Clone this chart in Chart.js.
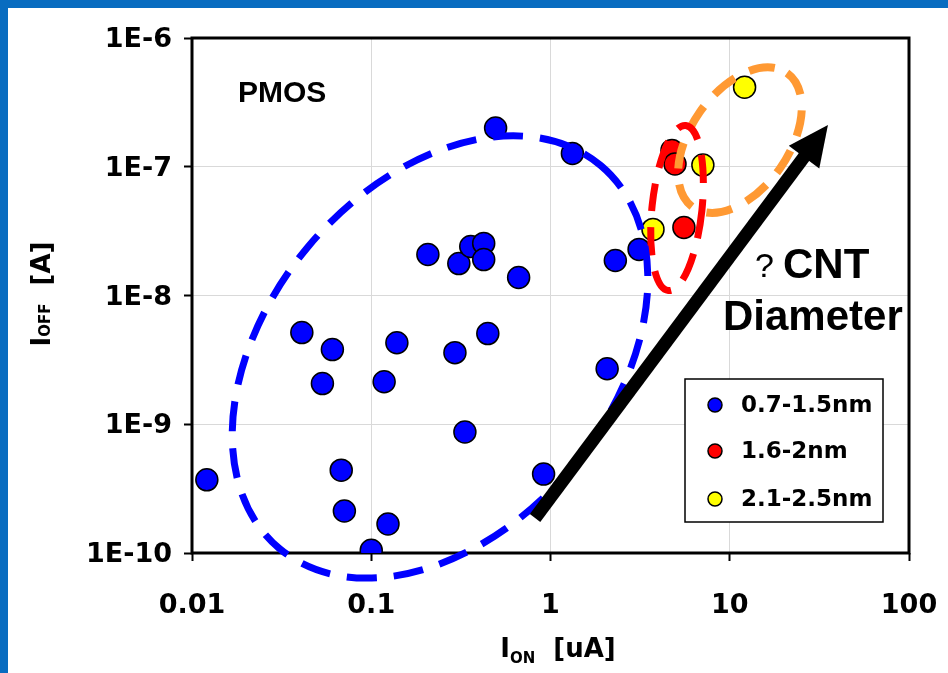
<!DOCTYPE html>
<html>
<head>
<meta charset="utf-8">
<script src="https://cdn.jsdelivr.net/npm/chart.js@4.4.1/dist/chart.umd.min.js"></script>
<style>
    html, body { margin: 0; padding: 0; background: #fff; }
    canvas { display: block; }
</style>
</head>
<body>
<canvas id="graph" width="948" height="673" style="width:948px;height:673px"></canvas>
<script>
// I_ON [uA] and I_OFF [A]
const smallOn = [0.0121, 0.041, 0.0607, 0.0534, 0.068, 0.0708, 0.1, 0.124, 0.118, 0.139,
    0.207, 0.293, 0.333, 0.308, 0.359, 0.424, 0.424, 0.447, 0.494, 0.664,
    0.915, 1.325, 2.07, 2.3, 3.12];
const smallOff = [3.7e-10, 5.15e-9, 3.8e-9, 2.07e-9, 4.4e-10, 2.12e-10, 1.05e-10, 1.68e-10, 2.14e-9, 4.3e-9,
    2.08e-8, 3.6e-9, 8.7e-10, 1.77e-8, 2.4e-8, 2.54e-8, 1.9e-8, 5.06e-9, 2.0e-7, 1.38e-8,
    4.1e-10, 1.27e-7, 2.7e-9, 1.87e-8, 2.28e-8];

const midOn = [4.76, 4.95, 5.55];
const midOff = [1.34e-7, 1.05e-7, 3.38e-8];

const largeOn = [3.73, 7.08, 12.1];
const largeOff = [3.26e-8, 1.03e-7, 4.15e-7];

const seriesLabels = ['0.7-1.5nm', '1.6-2nm', '2.1-2.5nm'];

const xTicks = [0.01, 0.1, 1, 10, 100];
const xTickLabels = ['0.01', '0.1', '1', '10', '100'];
const yTicks = [1e-10, 1e-9, 1e-8, 1e-7, 1e-6];
const yTickLabels = ['1E-10', '1E-9', '1E-8', '1E-7', '1E-6'];

const toPoints = (xs, ys) => xs.map((x, i) => ({ x: x, y: ys[i] }));

// dashed rings around the groups (centre in data units, radii in px)
const rings = [
    { x: 11.4, y: 1.61e-7, rx: 82, ry: 49, rot: -55, color: '#ff9933', width: 8, dash: [26, 16] },
    { x: 5.08, y: 4.78e-8, rx: 25, ry: 83, rot: 6, color: '#ff0000', width: 7, dash: [28, 16] },
    { x: 0.242, y: 3.33e-9, rx: 250, ry: 172, rot: -50, color: '#0000ff', width: 7, dash: [30, 17] }
];
const arrowFrom = { x: 0.82, y: 1.87e-10 };
const arrowTo = { x: 35.3, y: 2.11e-7 };

const TICK_FONT = { family: 'DejaVu Sans', size: 27, weight: 'bold' };

const decorPlugin = {
    id: 'decor',
    beforeDraw(chart) {
        const ctx = chart.ctx;
        ctx.save();
        ctx.fillStyle = '#fff';
        ctx.fillRect(0, 0, chart.width, chart.height);
        ctx.fillStyle = '#086cc0';
        ctx.fillRect(0, 0, chart.width, 8);
        ctx.fillRect(0, 0, 8, chart.height);
        ctx.restore();
    },
    beforeDatasetsDraw(chart) {
        const a = chart.chartArea;
        const ctx = chart.ctx;
        ctx.save();
        ctx.strokeStyle = '#000';
        ctx.lineWidth = 3;
        ctx.strokeRect(a.left, a.top, a.right - a.left, a.bottom - a.top);
        ctx.restore();
    },
    afterDatasetsDraw(chart) {
        const ctx = chart.ctx;
        const xs = chart.scales.x, ys = chart.scales.y;

        // rings
        rings.forEach(r => {
            ctx.save();
            ctx.strokeStyle = r.color;
            ctx.lineWidth = r.width;
            ctx.setLineDash(r.dash);
            ctx.beginPath();
            ctx.ellipse(xs.getPixelForValue(r.x), ys.getPixelForValue(r.y), r.rx, r.ry, r.rot * Math.PI / 180, 0, Math.PI * 2);
            ctx.stroke();
            ctx.restore();
        });

        // arrow
        const x0 = xs.getPixelForValue(arrowFrom.x), y0 = ys.getPixelForValue(arrowFrom.y);
        const x1 = xs.getPixelForValue(arrowTo.x), y1 = ys.getPixelForValue(arrowTo.y);
        const ang = Math.atan2(y1 - y0, x1 - x0);
        const headLen = 40, headHalf = 19;
        const bx = x1 - headLen * Math.cos(ang), by = y1 - headLen * Math.sin(ang);
        ctx.save();
        ctx.strokeStyle = '#000';
        ctx.fillStyle = '#000';
        ctx.lineWidth = 13;
        ctx.beginPath();
        ctx.moveTo(x0, y0);
        ctx.lineTo(bx + 2 * Math.cos(ang), by + 2 * Math.sin(ang));
        ctx.stroke();
        ctx.beginPath();
        ctx.moveTo(x1, y1);
        ctx.lineTo(bx - headHalf * Math.sin(ang), by + headHalf * Math.cos(ang));
        ctx.lineTo(bx + headHalf * Math.sin(ang), by - headHalf * Math.cos(ang));
        ctx.closePath();
        ctx.fill();
        ctx.restore();

        // texts
        ctx.save();
        ctx.fillStyle = '#000';
        ctx.textBaseline = 'alphabetic';
        ctx.textAlign = 'left';
        ctx.font = 'bold 30px "Liberation Sans", Arial, sans-serif';
        ctx.fillText('PMOS', 238, 102);
        ctx.font = '34px "Liberation Sans", Arial, sans-serif';
        ctx.fillText('?', 755, 277);
        ctx.font = 'bold 42px "Liberation Sans", Arial, sans-serif';
        ctx.fillText('CNT', 783, 278);
        ctx.fillText('Diameter', 723, 330);
        ctx.restore();

        // legend
        const box = { l: 685, t: 379, r: 883, b: 522 };
        const rows = [405, 451, 499];
        ctx.save();
        ctx.fillStyle = '#fff';
        ctx.fillRect(box.l, box.t, box.r - box.l, box.b - box.t);
        ctx.strokeStyle = '#000';
        ctx.lineWidth = 1.5;
        ctx.strokeRect(box.l, box.t, box.r - box.l, box.b - box.t);
        ctx.font = 'bold 23px "DejaVu Sans", sans-serif';
        ctx.textBaseline = 'middle';
        chart.data.datasets.forEach((ds, i) => {
            ctx.beginPath();
            ctx.arc(715, rows[i], 7, 0, Math.PI * 2);
            ctx.fillStyle = ds.backgroundColor;
            ctx.fill();
            ctx.lineWidth = 1.5;
            ctx.strokeStyle = '#000';
            ctx.stroke();
            ctx.fillStyle = '#000';
            ctx.fillText(ds.label, 741, rows[i] + 1);
        });
        ctx.restore();

        // axis titles with subscripts
        const drawParts = (parts, cx, base) => {
            let w = 0;
            parts.forEach(p => { ctx.font = 'bold ' + p.size + 'px "DejaVu Sans", sans-serif'; w += ctx.measureText(p.t).width; });
            let x = cx - w / 2;
            parts.forEach(p => {
                ctx.font = 'bold ' + p.size + 'px "DejaVu Sans", sans-serif';
                ctx.fillText(p.t, x, base + p.dy);
                x += ctx.measureText(p.t).width;
            });
        };
        ctx.save();
        ctx.fillStyle = '#000';
        ctx.textAlign = 'left';
        ctx.textBaseline = 'alphabetic';
        drawParts([{ t: 'I', size: 26, dy: 0 }, { t: 'ON', size: 15, dy: 6 }, { t: '  [uA]', size: 26, dy: 0 }], 558, 657);
        ctx.translate(0, 294);
        ctx.rotate(-Math.PI / 2);
        drawParts([{ t: 'I', size: 26, dy: 0 }, { t: 'OFF', size: 15, dy: 0 }, { t: '  [A]', size: 26, dy: 0 }], 0, 50);
        ctx.restore();
    }
};

new Chart(document.getElementById('graph'), {
    type: 'scatter',
    data: {
        datasets: [
            { label: seriesLabels[0], data: toPoints(smallOn, smallOff), backgroundColor: '#0000ff' },
            { label: seriesLabels[1], data: toPoints(midOn, midOff), backgroundColor: '#ff0000' },
            { label: seriesLabels[2], data: toPoints(largeOn, largeOff), backgroundColor: '#ffff00' }
        ]
    },
    options: {
        responsive: false,
        animation: false,
        devicePixelRatio: 1,
        events: [],
        layout: { padding: { top: 38, right: 39, left: 0, bottom: 0 } },
        elements: {
            point: { radius: 11, borderWidth: 1.5, borderColor: '#000', pointStyle: 'circle' }
        },
        scales: {
            x: {
                type: 'logarithmic',
                min: 0.01,
                max: 100,
                afterBuildTicks: s => { s.ticks = xTicks.map(v => ({ value: v })); },
                afterFit: s => { s.height = 120; s.paddingLeft = 0; s.paddingRight = 0; },
                grid: { color: '#d9d9d9', lineWidth: 1, tickColor: '#000', tickLength: 8, tickWidth: 2 },
                border: { display: false },
                ticks: {
                    autoSkip: false, maxRotation: 0, padding: 29, color: '#000', font: TICK_FONT,
                    callback: v => { const i = xTicks.indexOf(v); return i < 0 ? '' : xTickLabels[i]; }
                }
            },
            y: {
                type: 'logarithmic',
                min: 1e-10,
                max: 1e-6,
                afterBuildTicks: s => { s.ticks = yTicks.map(v => ({ value: v })); },
                afterFit: s => { s.width = 192; s.paddingTop = 0; s.paddingBottom = 0; },
                grid: { color: '#d9d9d9', lineWidth: 1, tickColor: '#000', tickLength: 8, tickWidth: 2 },
                border: { display: false },
                ticks: {
                    autoSkip: false, padding: 12, labelOffset: 2, color: '#000', font: TICK_FONT,
                    callback: v => { const i = yTicks.indexOf(v); return i < 0 ? '' : yTickLabels[i]; }
                }
            }
        },
        plugins: {
            legend: { display: false },
            tooltip: { enabled: false }
        }
    },
    plugins: [decorPlugin]
});
</script>
</body>
</html>
